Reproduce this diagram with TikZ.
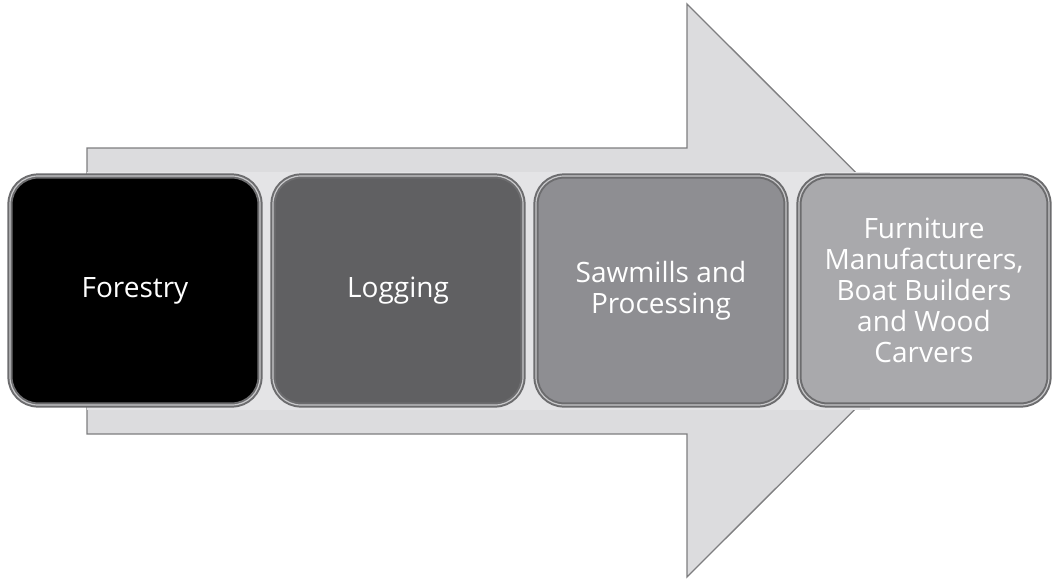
\documentclass[tikz,border=0pt]{standalone}
\usepackage{fontspec}
\setmainfont{Open Sans}
\definecolor{arrowfill}{HTML}{DCDCDE}
\definecolor{arrowedge}{HTML}{7E7E80}
\definecolor{bandfill}{HTML}{E4E4E6}
\definecolor{boxedge}{HTML}{6C6C6E}
\definecolor{boxshine}{HTML}{C8C8CA}
\definecolor{stageA}{HTML}{000000}
\definecolor{stageB}{HTML}{606062}
\definecolor{stageC}{HTML}{8E8E92}
\definecolor{stageD}{HTML}{A9A9AC}
\begin{document}
\begin{tikzpicture}[x=1pt,y=-1pt,
  stage/.style={draw=boxedge, line width=2pt, double=boxshine, double distance=1.2pt,
    rounded corners=28pt, minimum width=250pt, minimum height=229pt,
    text=white, align=center, inner sep=0pt,
    font=\fontsize{28}{31}\selectfont},
]
\useasboundingbox (0,0) rectangle (1058,581);
% big process arrow behind the stages
\draw[draw=arrowedge, fill=arrowfill, line width=1.3pt, line join=miter]
  (87,148) -- (687,148) -- (687,4) -- (974,290.5) -- (687,577) -- (687,434) -- (87,434) -- cycle;
% light band behind the stage row
\fill[bandfill] (87,172) rectangle (870,410);
% stages
\node[stage, fill=stageA] (forestry) at (135,290.5) {Forestry};
\node[stage, fill=stageB] (logging)  at (398,290.5) {Logging};
\node[stage, fill=stageC] (sawmills) at (661,290.5) {Sawmills and\\Processing};
\node[stage, fill=stageD] (makers)   at (924,290.5) {Furniture\\Manufacturers,\\Boat Builders\\and Wood\\Carvers};
\end{tikzpicture}
\end{document}
